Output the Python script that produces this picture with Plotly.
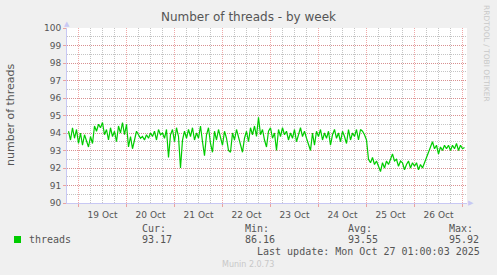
import pandas as pd
import plotly.graph_objects as go

# ---- data (hourly samples) ----
start_time = "2025-10-18 19:00"
threads = [
    94.1, 93.6, 94.3, 93.7, 94.2,
    # Oct 19
    93.4, 94.0, 93.3, 93.9, 93.5, 93.2, 93.8, 93.4, 94.4, 94.1, 94.5, 94.3,
    94.6, 93.9, 94.2, 93.6, 94.3, 93.8, 94.1, 93.5, 94.4, 94.0, 94.6, 93.9,
    # Oct 20
    94.5, 93.2, 93.8, 93.1, 93.6, 94.1, 93.9, 93.7, 93.8, 93.6, 93.9, 93.7,
    94.0, 93.8, 94.1, 93.6, 94.2, 93.9, 94.0, 93.7, 94.2, 92.6, 93.9, 94.2,
    # Oct 21
    93.5, 94.3, 93.8, 92.0, 93.6, 94.1, 93.7, 94.2, 93.8, 94.3, 93.6, 94.0,
    93.7, 94.4, 93.5, 92.7, 93.9, 94.3, 93.4, 92.9, 94.1, 93.6, 94.2, 93.8,
    # Oct 22
    93.3, 94.1, 93.7, 93.0, 92.9, 94.0, 93.6, 94.2, 93.8, 93.4, 92.9, 93.7,
    94.1, 93.5, 94.3, 93.9, 94.4, 93.8, 94.9, 93.9, 94.2, 93.6, 93.2, 94.1,
    # Oct 23
    94.3, 93.7, 94.0, 93.0, 94.2, 93.8, 94.3, 93.9, 94.1, 93.6, 94.0, 93.7,
    94.2, 93.5, 93.9, 94.3, 93.8, 94.1, 93.7, 93.4, 93.0, 94.0, 93.3, 94.1,
    # Oct 24
    93.8, 94.2, 93.6, 94.0, 93.7, 94.1, 93.3, 93.9, 94.2, 93.7, 94.0, 93.5,
    94.1, 93.8, 93.4, 94.2, 93.6, 94.0, 93.8, 94.2, 93.6, 94.2, 94.1, 93.9,
    # Oct 25
    93.6, 92.5, 92.3, 92.6, 92.2, 92.4, 92.1, 91.8, 92.3, 92.0, 92.4, 92.2,
    92.5, 92.8, 92.4, 92.5, 92.1, 92.4, 92.3, 91.9, 92.2, 92.4, 92.0, 92.3,
    # Oct 26
    92.1, 92.3, 91.9, 92.2, 92.0, 92.3, 92.6, 92.9, 93.2, 93.5, 93.1, 93.3,
    92.8, 93.2, 93.0, 93.3, 93.1, 93.3, 93.0, 93.3, 93.1, 93.4, 93.0, 93.3,
    # Oct 27
    93.1, 93.17,
]
y_ticks = list(range(90, 101))
series_name = "threads"
stat_labels = ["Cur:", "Min:", "Avg:", "Max:"]
stat_values = ["93.17", "86.16", "93.55", "95.92"]
last_update = "Last update: Mon Oct 27 01:00:03 2025"
x_range = ["2025-10-18 18:15", "2025-10-27 02:15"]

times = pd.date_range(start_time, periods=len(threads), freq="h")

# ---- geometry helpers (pixel -> paper) ----
W, H = 497, 275
L, R, T, B = 67, 30, 28, 72
PW, PH = W - L - R, H - T - B


def pxx(x):
    return (x - L) / PW


def pxy(y):
    return (T + PH - y) / PH


TXT = "#555555"
MONO = "DejaVu Sans Mono"
SANS = "DejaVu Sans"
MAJOR = "rgba(230,110,110,0.6)"
MINOR = "rgba(190,190,190,0.9)"
AXIS = "#c8c8f4"

fig = go.Figure()
fig.add_trace(go.Scatter(
    x=times, y=threads, mode="lines", name=series_name,
    line=dict(color="#00cc00", width=1.2), showlegend=False,
))

fig.update_layout(
    width=W, height=H,
    margin=dict(l=L, r=R, t=T, b=B),
    paper_bgcolor="#f0f0f0", plot_bgcolor="#ffffff",
    title=dict(text="Number of threads - by week", x=0.5, xanchor="center",
               y=1 - 17 / H, yanchor="middle", yref="container",
               font=dict(family=SANS, size=12, color=TXT)),
    font=dict(family=SANS, color=TXT),
)

fig.update_xaxes(
    type="date",
    range=x_range,
    tick0="2025-10-19", dtick=86400000,
    ticklabelmode="period", tickformat="%d %b",
    tickfont=dict(family=SANS, size=9, color=TXT),
    ticks="outside", ticklen=3, tickcolor=MAJOR,
    showgrid=True, gridcolor=MAJOR, griddash="1px,1px", gridwidth=1,
    minor=dict(tick0="2025-10-19", dtick=6 * 3600000, showgrid=True,
               gridcolor=MINOR, griddash="1px,1px", gridwidth=1, ticks=""),
    showline=True, linecolor=AXIS, linewidth=1,
    zeroline=False, fixedrange=True,
)
fig.update_yaxes(
    range=[90, 100], tickvals=y_ticks,
    tickfont=dict(family=SANS, size=9, color=TXT),
    ticks="outside", ticklen=3, tickcolor=MAJOR,
    showgrid=True, gridcolor=MAJOR, griddash="1px,1px", gridwidth=1,
    minor=dict(dtick=0.5, showgrid=True, gridcolor=MINOR,
               griddash="1px,1px", gridwidth=1, ticks=""),
    showline=True, linecolor=AXIS, linewidth=1,
    zeroline=False, fixedrange=True,
)

ann = []
ann.append(dict(text="number of threads", xref="paper", yref="paper",
                x=pxx(10), y=pxy(115), textangle=-90, showarrow=False,
                xanchor="center", yanchor="middle",
                font=dict(family=SANS, size=11, color=TXT)))
ann.append(dict(text="▲", xref="paper", yref="paper", x=pxx(67), y=pxy(24),
                showarrow=False, xanchor="center", yanchor="middle",
                font=dict(size=7, color=AXIS)))
ann.append(dict(text="▶", xref="paper", yref="paper", x=pxx(471), y=pxy(203),
                showarrow=False, xanchor="center", yanchor="middle",
                font=dict(size=7, color=AXIS)))
ann.append(dict(text="RRDTOOL / TOBI OETIKER", xref="paper", yref="paper",
                x=pxx(487), y=pxy(53), textangle=90, showarrow=False,
                xanchor="center", yanchor="middle",
                font=dict(family=SANS, size=7.5, color="#c8c8c8")))
ann.append(dict(text=series_name, xref="paper", yref="paper",
                x=pxx(27), y=pxy(239.5), showarrow=False,
                xanchor="left", yanchor="middle",
                font=dict(family=MONO, size=10, color=TXT)))
cols = [140, 243, 346, 447]
for cx, lab, val in zip(cols, stat_labels, stat_values):
    ann.append(dict(text=lab, xref="paper", yref="paper", x=pxx(cx), y=pxy(228),
                    showarrow=False, xanchor="left", yanchor="middle",
                    font=dict(family=MONO, size=10, color=TXT)))
    ann.append(dict(text=val, xref="paper", yref="paper", x=pxx(cx), y=pxy(239.5),
                    showarrow=False, xanchor="left", yanchor="middle",
                    font=dict(family=MONO, size=10, color=TXT)))
ann.append(dict(text=last_update, xref="paper", yref="paper",
                x=pxx(482), y=pxy(251), showarrow=False,
                xanchor="right", yanchor="middle",
                font=dict(family=MONO, size=10, color=TXT)))
ann.append(dict(text="Munin 2.0.73", xref="paper", yref="paper",
                x=pxx(248), y=pxy(264), showarrow=False,
                xanchor="center", yanchor="middle",
                font=dict(family=SANS, size=8, color="#c8c8c8")))
fig.update_layout(annotations=ann)

fig.add_shape(type="rect", xref="paper", yref="paper",
              x0=pxx(14), x1=pxx(21), y0=pxy(243), y1=pxy(236),
              fillcolor="#00cc00", line=dict(width=0))

fig.write_html("out.html", config={"displayModeBar": False})
